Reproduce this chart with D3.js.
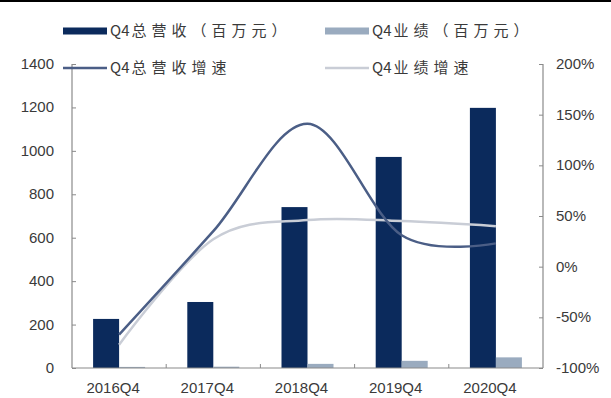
<!DOCTYPE html>
<html>
<head>
<meta charset="utf-8">
<script src="https://cdn.jsdelivr.net/npm/d3@7"></script>
<style>
  body { margin: 0; background: #fff; }
  svg { display: block; }
  .tick-label { font-family: "Liberation Sans", Arial, sans-serif; font-size: 15px; fill: #3a3a3a; }
  .legend-text { font-family: "Noto Sans CJK SC", sans-serif; font-size: 15px; fill: #3a3a3a; }
  .legend-text .cjk { letter-spacing: 5px; }
</style>
</head>
<body>
<svg id="chart" width="611" height="398"></svg>
<script>
// chart values
var categories = ['2016Q4', '2017Q4', '2018Q4', '2019Q4', '2020Q4'];
var revenue = [226, 304, 741, 972, 1198];      // Q4总营收（百万元）
var performance = [5, 6, 19, 33, 49];          // Q4业绩（百万元）
var revenueGrowth = [-67, 35, 141, 31, 23];    // Q4总营收增速 (%)
var performanceGrowth = [-77, 27, 46, 45, 40]; // Q4业绩增速 (%)
var leftTicks = [0, 200, 400, 600, 800, 1000, 1200, 1400];
var rightTicks = [-100, -50, 0, 50, 100, 150, 200];

var colors = {
  revenue: '#0b2a5c',
  performance: '#9aabbf',
  revenueGrowth: '#4b5e86',
  performanceGrowth: '#c9cdd6'
};

var plot = { left: 72, right: 543, top: 64, bottom: 368 };
var svg = d3.select('#chart');

// top rule
svg.append('rect')
  .attr('x', 0).attr('y', 0)
  .attr('width', 611).attr('height', 2)
  .attr('fill', '#000');

var x = d3.scaleBand()
  .domain(categories)
  .range([plot.left, plot.right])
  .padding(0);

var bw = x.bandwidth();
var x1 = d3.scaleBand()
  .domain(['revenue', 'performance'])
  .range([bw * 0.224, bw * 0.776])
  .padding(0);

var yLeft = d3.scaleLinear().domain([0, 1400]).range([plot.bottom, plot.top]);
var yRight = d3.scaleLinear().domain([-100, 200]).range([plot.bottom, plot.top]);

// bars
var groups = svg.append('g').selectAll('g')
  .data(categories)
  .enter().append('g')
    .attr('transform', function(d) { return 'translate(' + x(d) + ',0)'; });

groups.append('rect')
  .attr('x', x1('revenue'))
  .attr('width', x1.bandwidth())
  .attr('y', function(d, i) { return yLeft(revenue[i]); })
  .attr('height', function(d, i) { return yLeft(0) - yLeft(revenue[i]); })
  .attr('fill', colors.revenue);

groups.append('rect')
  .attr('x', x1('performance'))
  .attr('width', x1.bandwidth())
  .attr('y', function(d, i) { return yLeft(performance[i]); })
  .attr('height', function(d, i) { return yLeft(0) - yLeft(performance[i]); })
  .attr('fill', colors.performance);

// axes
var axisColor = '#8a8a8a';

var leftAxis = svg.append('g')
  .attr('transform', 'translate(' + plot.left + ',0)')
  .call(d3.axisRight(yLeft).tickValues(leftTicks).tickSize(4).tickFormat(''));
leftAxis.select('.domain').remove();
leftAxis.selectAll('line').attr('stroke', axisColor);

var rightAxis = svg.append('g')
  .attr('transform', 'translate(' + plot.right + ',0)')
  .call(d3.axisLeft(yRight).tickValues(rightTicks).tickSize(4).tickFormat(''));
rightAxis.select('.domain').remove();
rightAxis.selectAll('line').attr('stroke', axisColor);

// category boundary ticks
svg.append('g').selectAll('line')
  .data(categories.slice(1))
  .enter().append('line')
    .attr('x1', function(d) { return x(d); })
    .attr('x2', function(d) { return x(d); })
    .attr('y1', plot.bottom)
    .attr('y2', plot.bottom - 4)
    .attr('stroke', axisColor);

// axis lines
svg.append('line')
  .attr('x1', plot.left).attr('x2', plot.left)
  .attr('y1', plot.top).attr('y2', plot.bottom)
  .attr('stroke', axisColor).attr('stroke-width', 1.2);
svg.append('line')
  .attr('x1', plot.right).attr('x2', plot.right)
  .attr('y1', plot.top).attr('y2', plot.bottom)
  .attr('stroke', axisColor).attr('stroke-width', 1.2);
svg.append('line')
  .attr('x1', plot.left).attr('x2', plot.right)
  .attr('y1', plot.bottom).attr('y2', plot.bottom)
  .attr('stroke', axisColor).attr('stroke-width', 1.2);

// tick labels
svg.append('g').selectAll('text')
  .data(leftTicks)
  .enter().append('text')
    .attr('class', 'tick-label')
    .attr('x', 54)
    .attr('y', function(d) { return yLeft(d) + 5; })
    .attr('text-anchor', 'end')
    .text(function(d) { return d; });

svg.append('g').selectAll('text')
  .data(rightTicks)
  .enter().append('text')
    .attr('class', 'tick-label')
    .attr('x', 556)
    .attr('y', function(d) { return yRight(d) + 5; })
    .text(function(d) { return d + '%'; });

svg.append('g').selectAll('text')
  .data(categories)
  .enter().append('text')
    .attr('class', 'tick-label')
    .attr('x', function(d) { return x(d) + bw / 2 - 6; })
    .attr('y', 393)
    .attr('text-anchor', 'middle')
    .text(function(d) { return d; });

// growth lines
var curve = d3.curveCardinal.tension(0);
function growthLine(values) {
  return d3.line()
    .x(function(d, i) { return x(categories[i]) + bw / 2; })
    .y(function(d) { return yRight(d); })
    .curve(curve)(values);
}

svg.append('path')
  .attr('d', growthLine(performanceGrowth))
  .attr('fill', 'none')
  .attr('stroke', colors.performanceGrowth)
  .attr('stroke-width', 2.5);

svg.append('path')
  .attr('d', growthLine(revenueGrowth))
  .attr('fill', 'none')
  .attr('stroke', colors.revenueGrowth)
  .attr('stroke-width', 2.5);

// legend
var legendItems = [
  { label: 'Q4总营收（百万元）', color: colors.revenue, type: 'bar', x: 63, y: 31 },
  { label: 'Q4业绩（百万元）', color: colors.performance, type: 'bar', x: 325, y: 31 },
  { label: 'Q4总营收增速', color: colors.revenueGrowth, type: 'line', x: 63, y: 68 },
  { label: 'Q4业绩增速', color: colors.performanceGrowth, type: 'line', x: 325, y: 68 }
];

var legend = svg.append('g').selectAll('g')
  .data(legendItems)
  .enter().append('g')
    .attr('transform', function(d) { return 'translate(' + d.x + ',' + d.y + ')'; });

legend.append('rect')
  .attr('x', 0)
  .attr('width', 44)
  .attr('y', function(d) { return d.type === 'bar' ? -3.5 : -1.25; })
  .attr('height', function(d) { return d.type === 'bar' ? 7 : 2.5; })
  .attr('fill', function(d) { return d.color; });

var legendText = legend.append('text')
  .attr('class', 'legend-text')
  .attr('x', 47)
  .attr('y', 5);
legendText.append('tspan')
  .text(function(d) { return d.label.slice(0, 2); });
legendText.append('tspan')
  .attr('class', 'cjk')
  .attr('dx', 2)
  .text(function(d) { return d.label.slice(2); });
</script>
</body>
</html>
